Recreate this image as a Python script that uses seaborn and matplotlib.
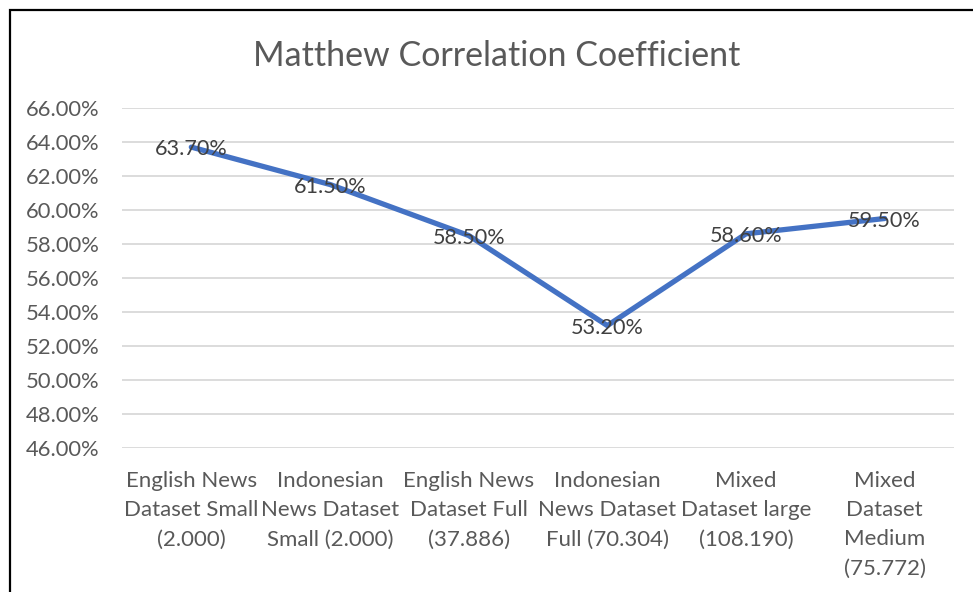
import matplotlib
matplotlib.use("Agg")
import matplotlib.pyplot as plt
from matplotlib.patches import Rectangle
from matplotlib.ticker import FuncFormatter
from matplotlib.transforms import offset_copy
import seaborn as sns
import pandas as pd

# Data
categories = [
    "English News\nDataset Small\n(2.000)",
    "Indonesian\nNews Dataset\nSmall (2.000)",
    "English News\nDataset Full\n(37.886)",
    "Indonesian\nNews Dataset\nFull (70.304)",
    "Mixed\nDataset large\n(108.190)",
    "Mixed\nDataset\nMedium\n(75.772)",
]
mcc = [63.70, 61.50, 58.50, 53.20, 58.60, 59.50]
y_ticks = [46, 48, 50, 52, 54, 56, 58, 60, 62, 64, 66]
title = "Matthew Correlation Coefficient"

sns.set_style("white")
plt.rcParams["font.family"] = ["Lato", "DejaVu Sans"]

W, H = 973, 592
fig = plt.figure(figsize=(W / 100, H / 100), dpi=100)
ax = fig.add_axes([122 / W, 1 - 448 / H, (954 - 122) / W, (448 - 108) / H])

df = pd.DataFrame({"pos": range(len(categories)), "mcc": mcc})
sns.lineplot(data=df, x="pos", y="mcc", ax=ax, color="#4472C4",
             linewidth=3.8, solid_capstyle="round", zorder=3)

ax.set_xlim(-0.5, len(categories) - 0.5)
ax.set_ylim(y_ticks[0], y_ticks[-1])
ax.set_yticks(y_ticks)
ax.yaxis.set_major_formatter(FuncFormatter(lambda v, _: f"{v:.2f}%"))
ax.set_xticks(range(len(categories)))
ax.set_xticklabels(categories, linespacing=1.58)
ax.tick_params(axis="both", length=0, labelcolor="#595959")
ax.tick_params(axis="y", labelsize=15.8, pad=16)
ax.tick_params(axis="x", labelsize=16, pad=16.5)
for lbl in ax.get_xticklabels():
    lbl.set_verticalalignment("top")
ax.set_xlabel("")
ax.set_ylabel("")
ax.grid(axis="y", color="#d9d9d9", linewidth=1.3)
ax.grid(axis="x", visible=False)
for s in ax.spines.values():
    s.set_visible(False)

label_tr = offset_copy(ax.transData, fig=fig, x=0, y=-2, units="dots")
for x, v in zip(df["pos"], df["mcc"]):
    ax.text(x, v, f"{v:.2f}%", ha="center", va="center", transform=label_tr,
            fontsize=15.6, color="#404040", zorder=4)

fig.text(497 / W, 1 - 56 / H, title, ha="center", va="center",
         fontsize=24.5, color="#595959")

# Chart-area frame
fig.patches.append(Rectangle((9.5 / W, -0.05), 1.1, 1 - 9.5 / H + 0.05,
                             transform=fig.transFigure, fill=False,
                             edgecolor="black", linewidth=1.6))

fig.savefig("out.png", dpi=100, facecolor="white")
